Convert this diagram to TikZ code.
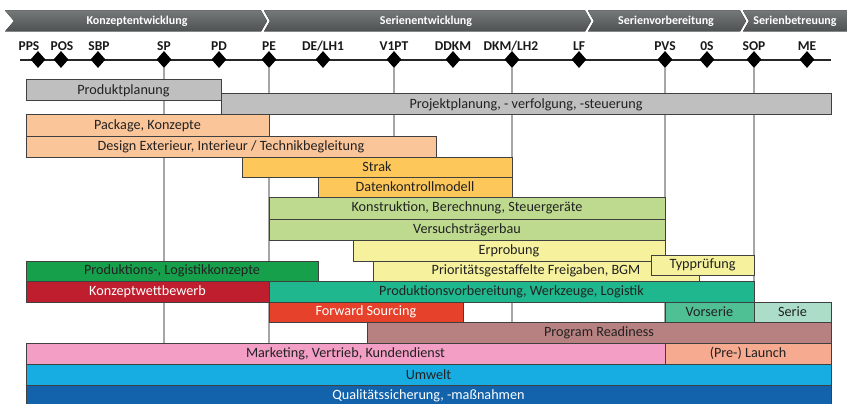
\documentclass[tikz,border=0pt]{standalone}
\usepackage{fontspec}
\setmainfont{Carlito}
\usetikzlibrary{shapes.geometric}

% bar fills
\definecolor{cGray}{HTML}{BFBFBF}
\definecolor{cApricot}{HTML}{FBC59A}
\definecolor{cAmber}{HTML}{FDC75A}
\definecolor{cLime}{HTML}{BDDA8F}
\definecolor{cLemon}{HTML}{F6F19C}
\definecolor{cGreen}{HTML}{16A04B}
\definecolor{cCrimson}{HTML}{BE1E2D}
\definecolor{cTeal}{HTML}{1FB88E}
\definecolor{cVermilion}{HTML}{E6412A}
\definecolor{cJade}{HTML}{4FBF94}
\definecolor{cMint}{HTML}{ABDDC9}
\definecolor{cRose}{HTML}{B88181}
\definecolor{cPink}{HTML}{F29EC5}
\definecolor{cSalmon}{HTML}{F6AA90}
\definecolor{cSky}{HTML}{17ADE3}
\definecolor{cNavy}{HTML}{1363AC}
\definecolor{cText}{HTML}{222222}
\definecolor{cBanner}{HTML}{5B6060}

% a task bar spanning x1..x2, y1..y2 (y grows downward)
\newcommand\taskbar[7]{%
  \node[taskbox,#6,minimum width={(#4-#2)*1pt},minimum height={(#5-#3)*1pt}]
    (#1) at ({(#2+#4)/2},{(#3+#5)/2}) {#7};}

% a milestone diamond at x=#2 with its label centred at x=#3
\newcommand\milestone[4]{%
  \node[msdiamond] (m#1) at (#2,59.5) {};
  \node[mslabel] (l#1) at (#3,50.5) {#4};}

\begin{document}
\begin{tikzpicture}[x=1pt,y=-1pt,
  phase/.style={top color=cBanner!85!white,bottom color=cBanner!85!black,draw=none},
  phasetext/.style={text=white,font=\bfseries\fontsize{12}{12}\selectfont},
  msdiamond/.style={diamond,fill=black,minimum width=15pt,minimum height=17pt,inner sep=0pt},
  mslabel/.style={anchor=base,text=black!90,font=\bfseries\fontsize{13.5}{14}\selectfont},
  timeline/.style={black!85,line width=1.6pt},
  gridline/.style={black!35,line width=1.4pt},
  taskbox/.style={draw=black!75,line width=1pt,inner sep=0pt,outer sep=0pt,
    text=cText,font=\fontsize{14.2}{15}\selectfont},
  whitetext/.style={text=white}]
\useasboundingbox (0,0) rectangle (847,404);

% phase banner
\fill[phase] (5,10.5) -- (261,10.5) -- (267,21) -- (261,31.5) -- (5,31.5) -- (14,21) -- cycle;
\fill[phase] (264,10.5) -- (585,10.5) -- (591,21) -- (585,31.5) -- (264,31.5) -- (270,21) -- cycle;
\fill[phase] (588,10.5) -- (740,10.5) -- (746,21) -- (740,31.5) -- (588,31.5) -- (594,21) -- cycle;
\fill[phase] (743,10.5) -- (847,10.5) -- (847,31.5) -- (743,31.5) -- (749,21) -- cycle;
\node[phasetext] (p1) at (137,21) {Konzeptentwicklung};
\node[phasetext] (p2) at (426,21) {Serienentwicklung};
\node[phasetext] (p3) at (666,21) {Serienvorbereitung};
\node[phasetext] (p4) at (795,21) {Serienbetreuung};

% timeline
\coordinate (tlA) at (20,60);
\coordinate (tlB) at (831,60);
\draw[timeline] (tlA) -- (tlB);

\milestone{PPS}{38}{29}{PPS}
\milestone{POS}{61}{62}{POS}
\milestone{SBP}{98}{99}{SBP}
\milestone{SP}{164}{164}{SP}
\milestone{PD}{219}{219}{PD}
\milestone{PE}{269}{269}{PE}
\milestone{DE}{323}{323}{DE/LH1}
\milestone{VPT}{394}{394}{V1PT}
\milestone{DDKM}{453}{453}{DDKM}
\milestone{DKM}{512}{511}{DKM/LH2}
\milestone{LF}{579}{579}{LF}
\milestone{PVS}{665}{665}{PVS}
\milestone{OS}{707}{707}{0S}
\milestone{SOP}{754}{754}{SOP}
\milestone{ME}{807}{807}{ME}

% grid lines below selected milestones
\coordinate (gridEnd) at (0,343);
\foreach \m in {SP,PE,VPT,DKM,PVS,SOP}
  \draw[gridline] (m\m.south) -- (m\m.south |- gridEnd);

% task bars
\taskbar{prodplan}{26}{80}{221}{101}{fill=cGray}{Produktplanung}
\taskbar{projplan}{221}{94}{831}{115}{fill=cGray}{Projektplanung, - verfolgung, -steuerung}
\taskbar{package}{26}{115}{269}{136}{fill=cApricot}{Package, Konzepte}
\taskbar{design}{26}{136}{436}{157}{fill=cApricot}{Design Exterieur, Interieur / Technikbegleitung}
\taskbar{strak}{242}{157}{512}{177}{fill=cAmber}{Strak}
\taskbar{dkm}{318}{177}{512}{197}{fill=cAmber}{Datenkontrollmodell}
\taskbar{konstr}{269}{197}{665}{219}{fill=cLime}{Konstruktion, Berechnung, Steuergeräte}
\taskbar{vtb}{269}{219}{665}{240}{fill=cLime}{Versuchsträgerbau}
\taskbar{erprob}{353}{240}{665}{261}{fill=cLemon}{Erprobung}
\taskbar{freig}{373}{261}{699}{281}{fill=cLemon}{Prioritätsgestaffelte Freigaben, BGM}
\taskbar{typ}{651}{255}{754}{275}{fill=cLemon}{Typprüfung}
\taskbar{plk}{26}{261}{318}{281}{fill=cGreen}{Produktions-, Logistikkonzepte}
\taskbar{kwb}{26}{281}{269}{302}{fill=cCrimson,whitetext}{Konzeptwettbewerb}
\taskbar{pvb}{269}{281}{754}{302}{fill=cTeal}{Produktionsvorbereitung, Werkzeuge, Logistik}
\taskbar{fws}{269}{302}{463}{322}{fill=cVermilion,whitetext}{Forward Sourcing}
\taskbar{vors}{665}{302}{754}{322}{fill=cJade}{Vorserie}
\taskbar{serie}{754}{302}{831}{322}{fill=cMint}{Serie}
\taskbar{progr}{367}{322}{831}{343}{fill=cRose}{Program Readiness}
\taskbar{mkt}{26}{343}{665}{364}{fill=cPink}{Marketing, Vertrieb, Kundendienst}
\taskbar{launch}{665}{343}{831}{364}{fill=cSalmon}{(Pre-) Launch}
\taskbar{umw}{26}{364}{831}{385}{fill=cSky}{Umwelt}
\taskbar{qs}{26}{385}{831}{406}{fill=cNavy,whitetext}{Qualitätssicherung, -maßnahmen}
\end{tikzpicture}
\end{document}
